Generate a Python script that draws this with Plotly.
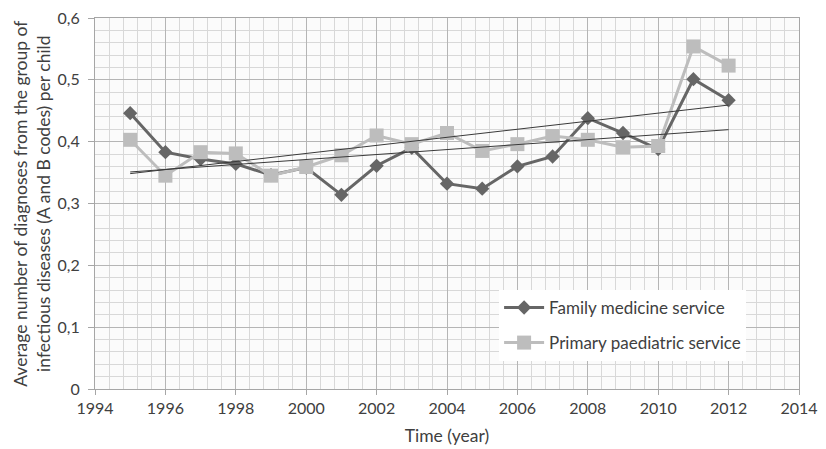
import numpy as np
import plotly.graph_objects as go

years = [1995, 1996, 1997, 1998, 1999, 2000, 2001, 2002, 2003, 2004, 2005, 2006,
         2007, 2008, 2009, 2010, 2011, 2012]
family = [0.446, 0.383, 0.372, 0.364, 0.346, 0.358, 0.314, 0.361, 0.390, 0.332,
          0.324, 0.360, 0.376, 0.438, 0.414, 0.388, 0.501, 0.467]
paediatric = [0.403, 0.345, 0.383, 0.381, 0.345, 0.359, 0.378, 0.410, 0.396, 0.414,
              0.385, 0.396, 0.409, 0.403, 0.391, 0.393, 0.554, 0.523]

y_ticks = [0, 0.1, 0.2, 0.3, 0.4, 0.5, 0.6]
y_tick_labels = ["0", "0,1", "0,2", "0,3", "0,4", "0,5", "0,6"]
x_ticks = list(range(1994, 2015, 2))

FONT = "Lato, Open Sans, sans-serif"
TXT = "#404040"

fig = go.Figure()

fig.add_trace(go.Scatter(
    x=years, y=family, mode="lines+markers", name="Family medicine service",
    legendgroup="a",
    line=dict(color="#666666", width=3),
    marker=dict(symbol="diamond", size=11, color="#666666"),
))
fig.add_trace(go.Scatter(
    x=years, y=paediatric, mode="lines+markers", name="Primary paediatric service",
    legendgroup="b",
    line=dict(color="#bdbdbd", width=3),
    marker=dict(symbol="square", size=14, color="#bdbdbd"),
))

# linear trend lines computed from the data
xa = np.array(years, dtype=float)
for series in (family, paediatric):
    k, b = np.polyfit(xa, np.array(series), 1)
    fig.add_trace(go.Scatter(
        x=years, y=k * xa + b, mode="lines", showlegend=False,
        line=dict(color="#3a3a3a", width=1), hoverinfo="skip",
    ))

fig.update_layout(
    width=810, height=441,
    margin=dict(l=87, r=19, t=10, b=60, autoexpand=False),
    paper_bgcolor="white",
    plot_bgcolor="#fbfbfb",
    font=dict(family=FONT, size=16, color=TXT),
    separators=", ",
    legend=dict(
        x=0.574, y=0.267, xanchor="left", yanchor="top",
        bgcolor="white", borderwidth=0,
        font=dict(family=FONT, size=17, color=TXT),
        tracegroupgap=10, itemwidth=40,
    ),
    annotations=[dict(
        text="Average number of diagnoses from the group of<br>infectious diseases (A and B codes) per child",
        xref="paper", yref="paper", x=-0.0905, y=0.5, xanchor="center", yanchor="middle",
        textangle=-90, showarrow=False,
        font=dict(family=FONT, size=17.5, color=TXT),
    )],
)

fig.update_xaxes(
    range=[1994, 2014], tickvals=x_ticks, automargin=False,
    ticklabeloverflow="allow",
    showgrid=True, gridcolor="#b5b5b5", gridwidth=1,
    minor=dict(dtick=0.4, tick0=1994, showgrid=True, gridcolor="#d8d8d8", gridwidth=1),
    showline=True, linecolor="#a6a6a6", linewidth=1, mirror=True,
    ticks="outside", ticklen=5, tickcolor="#a6a6a6",
    zeroline=False,
    title=dict(text="Time (year)", font=dict(family=FONT, size=17.5, color=TXT), standoff=13),
    tickfont=dict(family=FONT, size=16, color=TXT),
)
fig.update_yaxes(
    range=[0, 0.6], tickvals=y_ticks, ticktext=y_tick_labels, automargin=False,
    ticklabeloverflow="allow", ticklabelstandoff=5,
    showgrid=True, gridcolor="#b5b5b5", gridwidth=1,
    minor=dict(dtick=0.02, tick0=0, showgrid=True, gridcolor="#d8d8d8", gridwidth=1),
    showline=True, linecolor="#a6a6a6", linewidth=1, mirror=True,
    ticks="outside", ticklen=6, tickcolor="#a6a6a6",
    zeroline=False,
    tickfont=dict(family=FONT, size=16, color=TXT),
)

fig.write_html("out.html")
